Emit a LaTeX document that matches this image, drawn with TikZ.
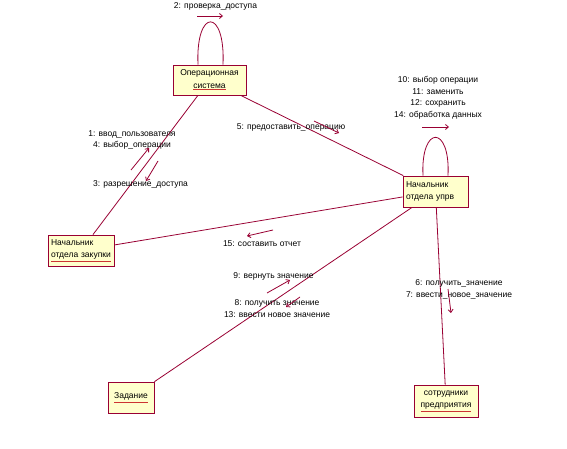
\documentclass[tikz,border=0pt]{standalone}
\usepackage{fontspec}
\setmainfont{Liberation Sans}
\usetikzlibrary{arrows.meta,calc}
\definecolor{boxfill}{RGB}{255,255,204}
\definecolor{linec}{RGB}{153,0,51}
\definecolor{ulc}{RGB}{204,51,51}
\newcommand\ulred[1]{{\color{ulc}\underline{\color{black}#1}}}
\begin{document}
\begin{tikzpicture}[x=1pt,y=-1pt,
  font=\fontsize{8.5}{11.5}\selectfont,
  obj/.style={draw=linec, fill=boxfill, line width=0.8pt, inner xsep=3pt, inner ysep=0pt,
    font=\fontsize{8.5}{12.5}\selectfont},
  link/.style={draw=linec, line width=0.8pt},
  msg/.style={draw=linec, line width=0.8pt, -{Straight Barb[length=3pt,width=5pt]}},
  lbl/.style={inner sep=0pt, align=center}]
\useasboundingbox[fill=white] (0,0) rectangle (567,449);

% objects
\node[obj, minimum width=73pt, minimum height=30pt, align=center] (os) at (209.5,80) {Операционная\\ \ulred{система}};
\node[obj, minimum height=31pt, text width=60pt, align=left] (zak) at (81,250.5) {Начальник\\ \ulred{отдела закупки}};
\node[obj, minimum height=31pt, text width=59pt, align=left] (upr) at (435.5,191.5) {Начальник\\ отдела упрв};
\node[obj, minimum width=46pt, minimum height=31pt, align=center] (task) at (131,397.5) {\ulred{Задание}};
\node[obj, minimum width=64pt, minimum height=32pt, align=center] (emp) at (446,401) {сотрудники\\ \ulred{предприятия}};

% links
\draw[link] (os) -- (zak);
\draw[link] (os) -- (upr);
\draw[link] (zak) -- (upr);
\draw[link] (task) -- (upr);
\draw[link] (upr) -- (emp);

% self loops
\draw[link] ($(os.north)+(-11.5,0)$) .. controls ($(os.north)+(-14,-57)$) and ($(os.north)+(16,-57)$) .. ($(os.north)+(13.5,0)$);
\draw[link] ($(upr.north)+(-12.5,0)$) .. controls ($(upr.north)+(-15,-51)$) and ($(upr.north)+(15,-51)$) .. ($(upr.north)+(12.5,0)$);

% messages
\node[lbl] (l2) at (215.5,6) {2: проверка\_доступа};
\draw[msg] (197,16) -- (223,16);

\node[lbl] (l1) at (132,140) {1: ввод\_пользователя\\4: выбор\_операции};
\draw[msg] (131,170) -- (149,148);
\node[lbl] (l3) at (140.5,184) {3: разрешение\_доступа};
\draw[msg] (158,161) -- (146,181);

\node[lbl] (l5) at (291,127) {5: предоставить\_операцию};
\draw[msg] (314,121) -- (339,133);

\node[lbl] (l10) at (438,98) {10: выбор операции\\11: заменить\\12: сохранить\\14: обработка данных};
\draw[msg] (422,127) -- (449,127);

\node[lbl] (l15) at (262,244) {15: составить отчет};
\draw[msg] (273,230) -- (247,236);

\node[lbl] (l9) at (273.5,276) {9: вернуть значение};
\draw[msg] (267,293) -- (290,280);

\node[lbl] (l8) at (277,308.5) {8: получить значение\\13: ввести новое значение};
\draw[msg] (300,297) -- (286,307);

\node[lbl] (l6) at (459,289.5) {6: получить\_значение\\7: ввести\_новое\_значение};
\draw[msg] (448,289) -- (451,313);
\end{tikzpicture}
\end{document}
